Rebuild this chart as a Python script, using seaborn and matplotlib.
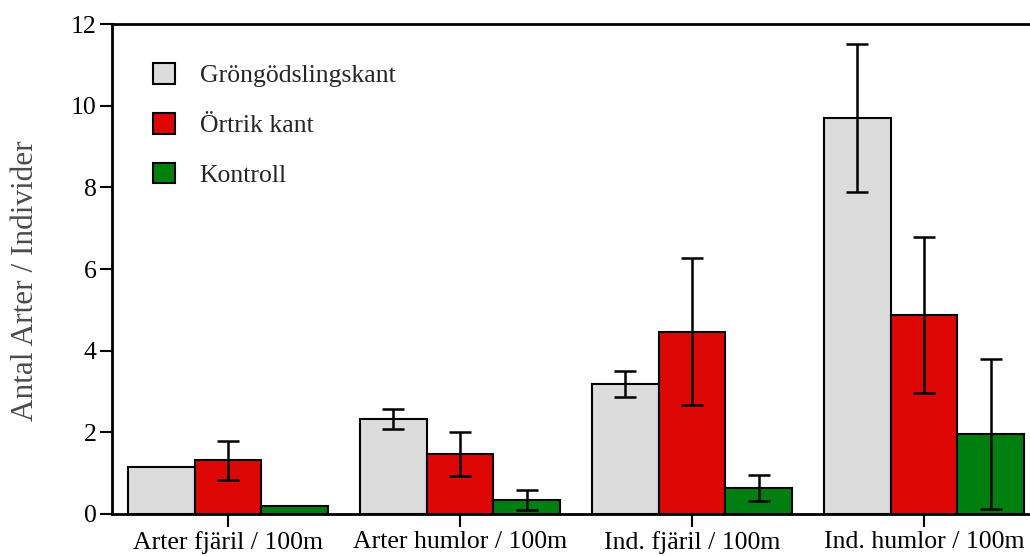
import matplotlib
matplotlib.use("Agg")
import matplotlib.pyplot as plt
import seaborn as sns
import numpy as np
import pandas as pd

categories = ["Arter fjäril / 100m", "Arter humlor / 100m", "Ind. fjäril / 100m", "Ind. humlor / 100m"]
series = ["Gröngödslingskant", "Örtrik kant", "Kontroll"]
vals_grong = [1.15, 2.33, 3.18, 9.70]
vals_ortrik = [1.32, 1.47, 4.46, 4.87]
vals_kontroll = [0.20, 0.34, 0.64, 1.96]
err_grong = [0.0, 0.24, 0.32, 1.82]
err_ortrik = [0.48, 0.53, 1.80, 1.91]
err_kontroll = [0.0, 0.24, 0.32, 1.84]
colors = ["#dcdcdc", "#dd0806", "#007f11"]

sns.set_theme(style="white")
plt.rcParams['font.family'] = ['Liberation Serif', 'DejaVu Serif']

rows = []
for s, vals in zip(series, [vals_grong, vals_ortrik, vals_kontroll]):
    for c, v in zip(categories, vals):
        rows.append({"cat": c, "serie": s, "val": v})
df = pd.DataFrame(rows)

fig = plt.figure(figsize=(10.3, 5.56), dpi=100)
ax = fig.add_axes([112/1030, 1-514/556, 918/1030, 490/556])

sns.barplot(data=df, x="cat", y="val", hue="serie", hue_order=series, order=categories,
            palette=colors, width=0.86, gap=0, errorbar=None, saturation=1,
            edgecolor="black", linewidth=1.5, ax=ax, zorder=2)

for cont, errs in zip(ax.containers, [err_grong, err_ortrik, err_kontroll]):
    for bar, e in zip(cont, errs):
        if e > 0:
            xc = bar.get_x() + bar.get_width()/2
            ax.errorbar(xc, bar.get_height(), yerr=e, fmt="none", ecolor="black",
                        elinewidth=1.8, capsize=8, capthick=1.8, zorder=3)

ax.set_ylim(0, 12)
ax.set_xlim(-0.5, -0.5 + 918/232)
ax.set_yticks([0, 2, 4, 6, 8, 10, 12])
ax.set_xlabel("")
ax.set_ylabel("Antal Arter / Individer", fontsize=22.5, color="#4a4a4a")
ax.yaxis.set_label_coords((40-112)/918, (514-281)/490)
for sp in ["left", "top", "bottom"]:
    ax.spines[sp].set_visible(True)
    ax.spines[sp].set_color("black")
    ax.spines[sp].set_linewidth(2)
ax.spines["right"].set_visible(False)
ax.tick_params(axis="both", which="both", direction="out", length=9, width=1.5,
               colors="black", labelsize=18.5, left=True, bottom=True, pad=2)
ax.tick_params(axis="x", pad=3)

ax.legend(loc="upper left", bbox_to_anchor=((153-112)/918, (514-63)/490),
          frameon=False, fontsize=18.5, handlelength=0.86, handleheight=0.86,
          labelspacing=1.0, handletextpad=0.95, borderaxespad=0, borderpad=0)

fig.savefig("out.png", dpi=100)
